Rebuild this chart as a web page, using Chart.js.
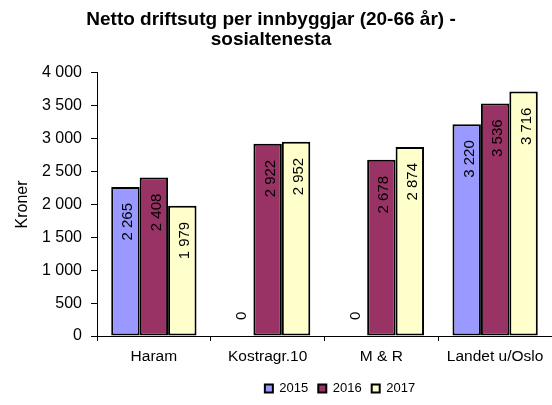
<!DOCTYPE html>
<html>
<head>
<meta charset="utf-8">
<script src="https://cdn.jsdelivr.net/npm/chart.js@4"></script>
<style>
  html, body { margin: 0; padding: 0; background: #fff; }
</style>
</head>
<body>
<canvas id="chart" width="552" height="405"></canvas>
<script>
const categories = ["Haram", "Kostragr.10", "M & R", "Landet u/Oslo"];
const years = ["2015", "2016", "2017"];
const values2015 = [2265, 0, 0, 3220];
const values2016 = [2408, 2922, 2678, 3536];
const values2017 = [1979, 2952, 2874, 3716];
const yMin = 0;
const yMax = 4000;
const yStep = 500;

const fontFamily = "'Liberation Sans', Arial, sans-serif";
Chart.defaults.font.family = fontFamily;
Chart.defaults.color = "#000";

// 2 265 style: space as thousands separator
function fmt(v) {
  return String(v).replace(/\B(?=(\d{3})+(?!\d))/g, " ");
}

// vertical value labels inside the top of each bar
const barLabels = {
  id: "barLabels",
  afterDatasetsDraw(chart) {
    const ctx = chart.ctx;
    const base = chart.scales.y.getPixelForValue(0);
    ctx.save();
    ctx.font = "15px " + fontFamily;
    ctx.fillStyle = "#000";
    ctx.textBaseline = "alphabetic";
    chart.data.datasets.forEach((ds, i) => {
      chart.getDatasetMeta(i).data.forEach((bar, j) => {
        const v = ds.data[j];
        ctx.save();
        if (v === 0) {
          ctx.translate(bar.x, base - 16);
          ctx.rotate(-Math.PI / 2);
          ctx.textAlign = "left";
        } else {
          ctx.translate(bar.x, bar.y + 16);
          ctx.rotate(-Math.PI / 2);
          ctx.textAlign = "right";
        }
        ctx.fillText(fmt(v), 0, 7);
        ctx.restore();
      });
    });
    ctx.restore();
  }
};

// legend sits right of centre in the original, title a bit left
const blockShift = {
  id: "blockShift",
  afterLayout(chart) {
    chart.legend.left += 64;
    chart.legend.right += 64;
    chart.titleBlock.left -= 10;
  }
};

const colors = ["#9999FF", "#993366", "#FFFFCC"];
const series = [values2015, values2016, values2017];

new Chart(document.getElementById("chart"), {
  type: "bar",
  data: {
    labels: categories,
    datasets: series.map((data, i) => ({
      label: years[i],
      data: data,
      backgroundColor: colors[i],
      borderColor: "#000",
      borderWidth: 2,
      borderSkipped: false,
      categoryPercentage: 0.75,
      barPercentage: 1,
    })),
  },
  options: {
    responsive: false,
    animation: false,
    devicePixelRatio: 1,
    layout: { padding: 0 },
    plugins: {
      title: {
        display: true,
        text: ["Netto driftsutg per innbyggjar (20-66 år) -", "sosialtenesta"],
        font: { size: 19, weight: "bold", lineHeight: 1.05 },
        color: "#000",
        padding: { top: 10, bottom: 23 },
      },
      legend: {
        position: "bottom",
        labels: {
          boxWidth: 8,
          boxHeight: 8,
          padding: 10,
          font: { size: 13 },
          color: "#000",
        },
      },
      tooltip: { enabled: false },
    },
    scales: {
      x: {
        grid: {
          drawOnChartArea: false,
          drawTicks: true,
          tickLength: 5,
          color: "#000",
          offset: true,
        },
        border: { color: "#000" },
        ticks: { font: { size: 15.5 }, color: "#000", padding: 6, maxRotation: 0 },
        afterFit(s) { s.height = 36; },
      },
      y: {
        min: yMin,
        max: yMax,
        ticks: {
          stepSize: yStep,
          callback: (v) => fmt(v),
          font: { size: 16 },
          color: "#000",
          padding: 9,
        },
        grid: { drawOnChartArea: false, tickLength: 6, color: "#000" },
        border: { color: "#000" },
        title: {
          display: true,
          text: "Kroner",
          font: { size: 16 },
          color: "#000",
          padding: { top: 13, bottom: 0 },
        },
        afterFit(s) { s.width = 97; },
      },
    },
  },
  plugins: [barLabels, blockShift],
});
</script>
</body>
</html>
